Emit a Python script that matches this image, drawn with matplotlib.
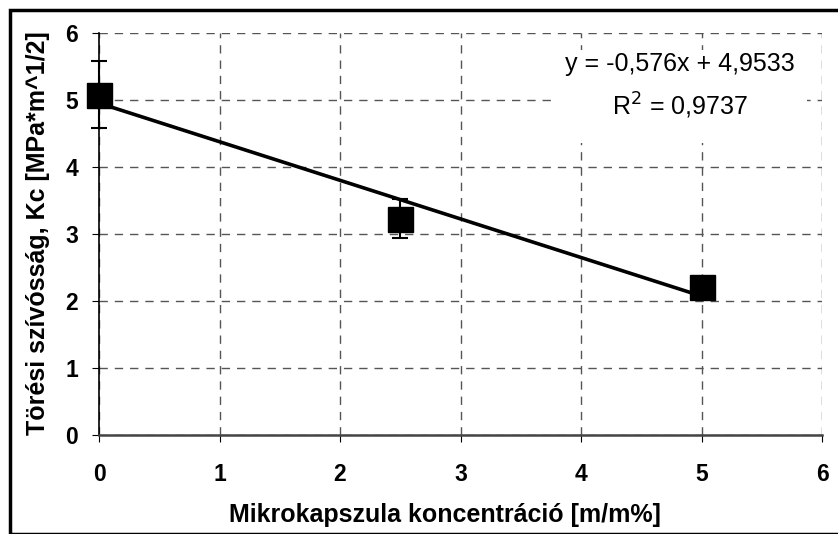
import numpy as np
import matplotlib
matplotlib.use("Agg")
import matplotlib.pyplot as plt
from matplotlib.patches import Rectangle

plt.rcParams['font.family'] = ['Liberation Sans', 'DejaVu Sans']

# data
conc = [0, 2.5, 5]
kc = [5.08, 3.23, 2.21]
kc_err = [0.5, 0.29, 0.05]
slope = -0.576
intercept = 4.9533
r2 = 0.9737

fig = plt.figure(figsize=(8.38, 5.34), dpi=100)
ax = fig.add_axes([99/838, 1 - 435/534, (822 - 99)/838, (435 - 33)/534])

# outer frame of the chart
fig.patches.append(Rectangle((10/838, 0), 1, 1 - 10/534, transform=fig.transFigure,
                             fill=False, edgecolor='black', linewidth=2.5))

ax.grid(True, color='#555555', linestyle=(0, (6, 5)), linewidth=1)
ax.set_axisbelow(True)

# trend line
xt = np.array([0, 5])
ax.plot(xt, slope * xt + intercept, color='black', linewidth=2.6, zorder=3)

ax.errorbar(conc, kc, yerr=kc_err, fmt='s', color='black', markersize=18,
            ecolor='black', elinewidth=1.5, capsize=5.5, capthick=1.5, zorder=4,
            clip_on=False)

# equation label sits on a white patch that hides the grid
ax.add_patch(Rectangle((0.631, 0.726), 0.348, 0.232, transform=ax.transAxes,
                       facecolor='white', edgecolor='none', zorder=1))
ax.text(0.804, 0.924, "y = -0,576x + 4,9533", transform=ax.transAxes,
        ha='center', va='center', fontsize=18, zorder=5)
ax.text(0.804, 0.818, "R$^2$ = 0,9737", transform=ax.transAxes,
        ha='center', va='center', fontsize=18, zorder=5)

ax.set_xlim(0, 6)
ax.set_ylim(0, 6)
ax.set_xticks(range(7))
ax.set_yticks(range(7))
for s in ['top', 'right']:
    ax.spines[s].set_visible(False)
ax.spines['left'].set_color('black')
ax.spines['bottom'].set_color('#444444')
ax.spines['left'].set_linewidth(1.2)
ax.spines['bottom'].set_linewidth(1.8)
ax.tick_params(direction='out', length=5, labelsize=16.5)
for lbl in ax.get_xticklabels() + ax.get_yticklabels():
    lbl.set_fontweight('bold')
ax.tick_params(axis='x', pad=15)
ax.tick_params(axis='y', pad=10)

ax.set_xlabel("Mikrokapszula koncentráció [m/m%]", fontsize=18, fontweight='bold', va='center')
ax.set_ylabel("Törési szívósság, Kc [MPa*m^1/2]", fontsize=18, fontweight='bold', va='center')
ax.xaxis.set_label_coords(0.478, -0.199)
ax.yaxis.set_label_coords(-0.084, 0.502)

plt.savefig("out.png", dpi=100)
